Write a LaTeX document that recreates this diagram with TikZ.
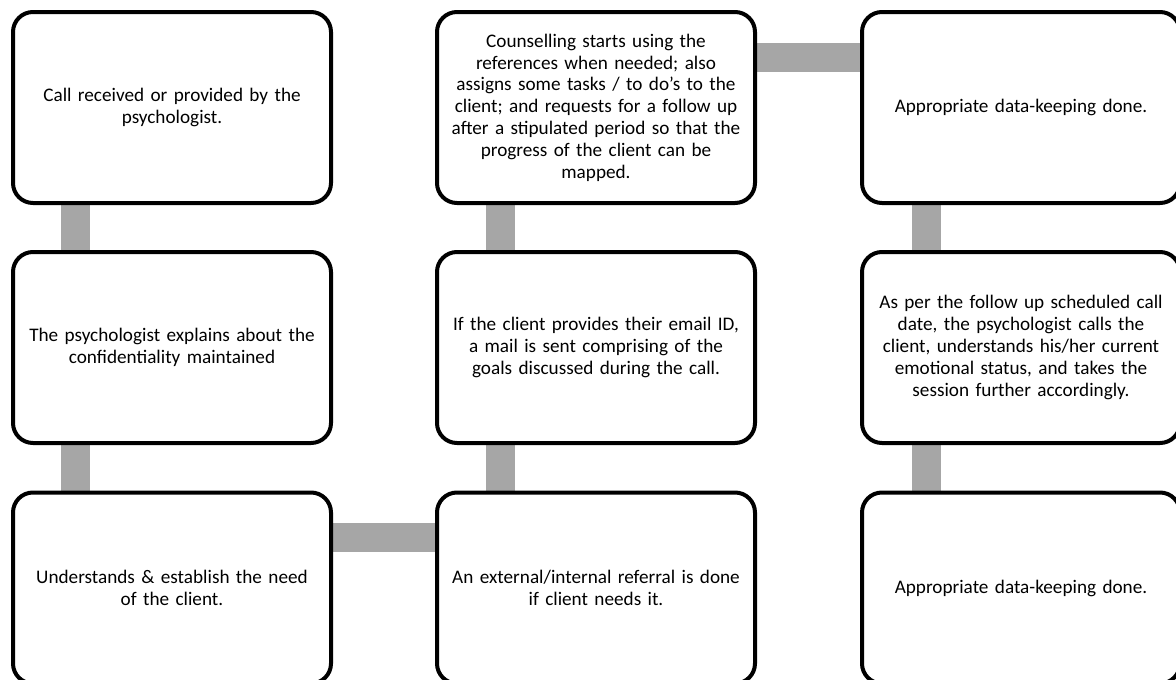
\documentclass[tikz,border=0pt]{standalone}
\usepackage{fontspec}
\setmainfont{Carlito}
\usetikzlibrary{backgrounds}
\definecolor{conngray}{HTML}{A6A6A6}
\tikzset{
  x=1pt, y=-1pt,
  stepbox/.style={draw=black, fill=white, line width=4pt, rounded corners=20pt,
    minimum width=318pt, minimum height=191pt, inner sep=0pt, outer sep=0pt,
    text width=316pt, align=center,
    font=\fontsize{19.2}{21.8}\selectfont},
  conn/.style={draw=conngray, line width=29pt}
}
\begin{document}
\begin{tikzpicture}
\useasboundingbox (0,0) rectangle (1176,680);
\node[stepbox] (b1) at (172,107.5) {Call received or provided by the\\psychologist.};
\node[stepbox] (b2) at (172,347.5) {The psychologist explains about the\\confidentiality maintained};
\node[stepbox] (b3) at (172,588) {Understands \& establish the need\\of the client.};
\node[stepbox] (c1) at (596,107.5) {Counselling starts using the\\references when needed; also\\assigns some tasks / to do's to the\\client; and requests for a follow up\\after a stipulated period so that the\\progress of the client can be\\mapped.};
\node[stepbox] (c2) at (596,347.5) {If the client provides their email ID,\\a mail is sent comprising of the\\goals discussed during the call.};
\node[stepbox] (c3) at (596,588) {An external/internal referral is done\\if client needs it.};
\node[stepbox] (d1) at (1021,107.5) {Appropriate data-keeping done.};
\node[stepbox] (d2) at (1021,347.5) {As per the follow up scheduled call\\date, the psychologist calls the\\client, understands his/her current\\emotional status, and takes the\\session further accordingly.};
\node[stepbox] (d3) at (1021,588) {Appropriate data-keeping done.};
\begin{scope}[on background layer]
\draw[conn] ([xshift=-97pt]b1.center) -- ([xshift=-97pt]b2.center);
\draw[conn] ([xshift=-97pt]b2.center) -- ([xshift=-97pt]b3.center);
\draw[conn] ([xshift=-96pt]c1.center) -- ([xshift=-96pt]c2.center);
\draw[conn] ([xshift=-96pt]c2.center) -- ([xshift=-96pt]c3.center);
\draw[conn] ([xshift=-95pt]d1.center) -- ([xshift=-95pt]d2.center);
\draw[conn] ([xshift=-95pt]d2.center) -- ([xshift=-95pt]d3.center);
\draw[conn] ([yshift=50pt]c1.center) -- ([yshift=50pt]d1.center);
\draw[conn] ([yshift=50.5pt]b3.center) -- ([yshift=50.5pt]c3.center);
\end{scope}
\end{tikzpicture}
\end{document}
